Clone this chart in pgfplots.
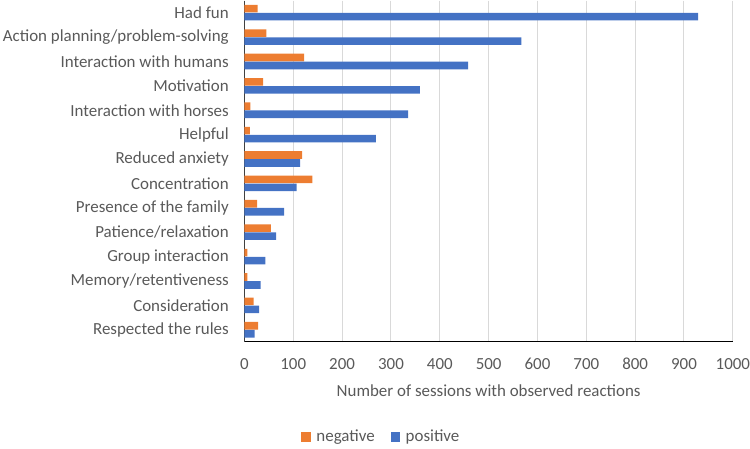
\documentclass[border=0pt]{standalone}
\usepackage{fontspec}
\setmainfont{Carlito}
\usepackage{pgfplots}
\pgfplotsset{compat=1.18}
\definecolor{cneg}{HTML}{ED7D31}
\definecolor{cpos}{HTML}{4472C4}
\definecolor{ctext}{HTML}{595959}
\definecolor{cgrid}{HTML}{D9D9D9}
\begin{document}
\begin{tikzpicture}
\fontsize{17}{19}\selectfont
\begin{axis}[
  at={(0,0)}, anchor=south west,
  scale only axis, width=488.5bp, height=341.5bp,
  xbar, bar width=7.6bp,
  xmin=0, xmax=1000, xtick={0,100,...,1000},
  ymin=-0.5, ymax=13.5, y dir=reverse,
  ytick={0,...,13},
  yticklabels={Had fun,Action planning/problem-solving,Interaction with humans,Motivation,Interaction with horses,Helpful,Reduced anxiety,Concentration,Presence of the family,Patience/relaxation,Group interaction,Memory/retentiveness,Consideration,Respected the rules},
  major tick length=0pt,
  xmajorgrids, grid style={cgrid, line width=1bp},
  axis x line*=bottom, axis y line*=left,
  axis line style={draw=black!75, line width=1bp, -},
  x axis line style={draw=black, line width=1bp},
  tick label style={font=\fontsize{17}{19}\selectfont, text=ctext, inner sep=0pt},
  yticklabel style={xshift=-15.5bp},
  xticklabel style={yshift=-16bp},
  /pgf/number format/assume math mode=true,
  /pgf/number format/1000 sep={},
  xlabel={Number of sessions with observed reactions},
  xlabel style={at={(axis description cs:0.5,0)}, anchor=center, yshift=-48.5bp, font=\fontsize{17}{19}\selectfont, text=ctext, inner sep=0pt},
  legend columns=2,
  legend style={at={(axis description cs:0.2805,-0.2788)}, anchor=center, draw=none, fill=none, font=\fontsize{17}{19}\selectfont, text=ctext, /tikz/every even column/.append style={column sep=14bp}},
  legend image code/.code={\fill[#1] (0bp,-4.7bp) rectangle (9.5bp,4.7bp); \path (13bp,0bp);},
  clip=false,
]
\addplot[fill=cneg, draw=none, bar shift=4bp] coordinates {
(27,0) (45,1) (122,2) (38,3) (12,4) (11,5) (118,6) (139,7) (26,8) (54,9) (6,10) (6,11) (19,12) (28,13)};
\addplot[fill=cpos, draw=none, bar shift=-4bp] coordinates {
(929,0) (567,1) (458,2) (359,3) (335,4) (269,5) (114,6) (107,7) (81,8) (65,9) (43,10) (33,11) (30,12) (21,13)};
\legend{negative,positive}
\end{axis}
\path[use as bounding box] (-244.5bp,-103.5bp) rectangle (505.5bp,341.5bp);
\end{tikzpicture}
\end{document}
